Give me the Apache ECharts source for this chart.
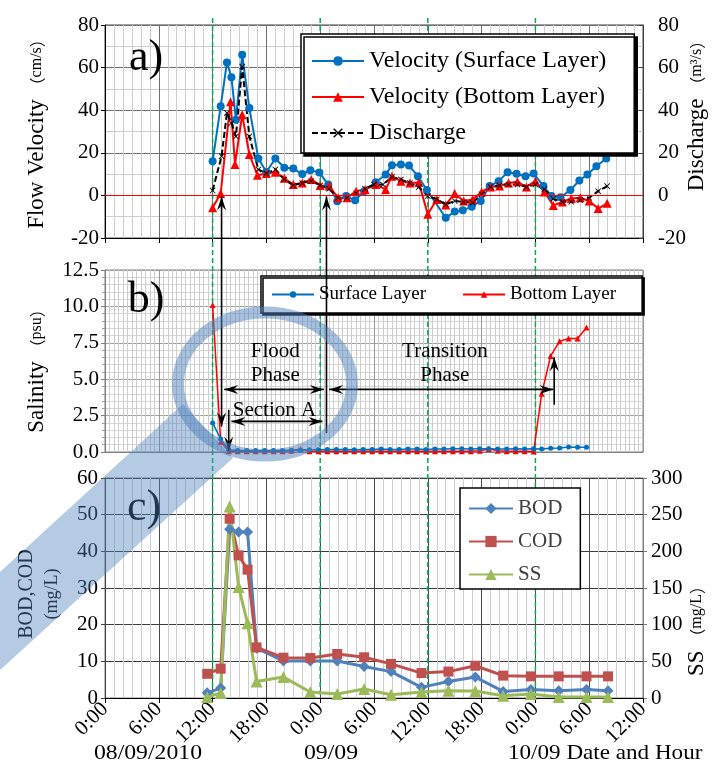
<!DOCTYPE html>
<html>
<head>
<meta charset="utf-8">
<script src="https://cdn.jsdelivr.net/npm/echarts@6/dist/echarts.min.js"></script>
<style>
  body { margin: 0; background: #fff; }
  #mychart { width: 720px; height: 770px; }
</style>
</head>
<body>
<div id="mychart"></div>
<script>
// x values are hours counted from 0:00 08/09/2010
const tickLabels = ['0:00', '6:00', '12:00', '18:00', '0:00', '6:00', '12:00', '18:00', '0:00', '6:00', '12:00']

// a) flow velocity (cm/s) and discharge (m3/s)
const surfHours = [12, 12.9, 13.6, 14.1, 14.6, 15.3, 16.1, 17.1, 18, 19, 20, 21, 22, 22.9, 23.9, 24.9,
    25.9, 26.9, 27.9, 28.9, 30.2, 31.3, 32, 33, 33.9, 34.9, 35.9, 38, 39, 39.9, 40.9, 41.9,
    42.9, 43.9, 44.9, 45.9, 46.9, 47.8, 48.9, 49.8, 50.8, 51.9, 52.9, 53.8, 54.8, 55.9]
const surfVel = [16, 41.8, 62.4, 55.5, 35.5, 66, 41, 17.3, 11, 17.3, 13, 12.6, 10, 11.8, 10.8, 5.1,
    -2.8, -0.3, -2.3, 2, 6.2, 9.8, 14.2, 14.5, 14, 9, 2.5, -10.5, -7.6, -7, -5.3, -2.6,
    4.4, 6.7, 10.9, 10.2, 9, 10.3, 4.4, -0.3, -0.9, 2.5, 7, 9.8, 13.7, 17.3]
const botHours = [12, 12.9, 14, 14.5, 15.3, 16.1, 17, 18, 19, 20, 21, 22, 23, 24, 25, 26,
    27, 28, 29, 30.2, 31.3, 32, 33, 34, 35, 36, 37, 38, 39, 40, 41, 42,
    43, 44, 45, 46, 47, 48, 49, 50, 51, 52, 53, 54, 55, 56]
const botVel = [-5.8, 0.9, 44, 14.5, 37.9, 19.2, 9.5, 10.3, 10.9, 8, 5.1, 5.8, 7.5, 4.7, 4.4, -1.1,
    -1.1, 2, 2.8, 5.1, 2.8, 9, 6.7, 5.8, 6, -8.9, -1.9, -4.5, 0.9, -2.6, -1.9, 1.6,
    4, 4.4, 5.8, 6.4, 4, 6.7, 1.6, -4.7, -3.1, -1.4, -1.1, -2.6, -6.2, -3.7]
const disHours = [12, 13, 13.6, 14.1, 14.6, 15.3, 16.1, 17.1, 18, 19, 20, 21, 22, 23, 24, 25,
    26, 27, 28, 29, 30, 31, 32, 33, 34, 35, 36, 37, 38, 39, 40, 41,
    42, 43, 44, 45, 46, 47, 48, 49, 50, 51, 52, 53, 54, 55, 56]
const discharge = [2.3, 18.4, 38.7, 34, 27.7, 60.5, 27.7, 12.2, 10.3, 12.2, 7.5, 4.7, 5.8, 6.7, 4.7, 3.1,
    -1.1, -1.1, 0.9, 3.1, 5.1, 5.1, 8.6, 7.5, 5.8, 3.9, -0.3, -1.9, -4.2, -2.6, -3.1, -3.4,
    0.5, 4, 4.7, 5.1, 5.1, 4, 5.1, 2.8, -1.6, -3, -3, -2.2, -1.1, 2, 4.4]

// b) salinity (psu)
const salHours = [12, 12.9, 13.8, 14.8, 15.8, 16.8, 17.8, 18.8, 19.8, 20.8, 21.8, 22.8, 23.8, 24.8,
    25.8, 26.8, 27.8, 28.8, 29.8, 30.8, 31.8, 32.8, 33.8, 34.8, 35.8, 36.8, 37.8, 38.8,
    39.8, 40.8, 41.8, 42.8, 43.8, 44.8, 45.8, 46.8, 47.8, 48.7, 49.7, 50.7, 51.7, 52.7, 53.7]
const salSurface = [2.0, 0.9, 0.15, 0.1, 0.1, 0.1, 0.1, 0.1, 0.1, 0.12, 0.12, 0.15, 0.15, 0.18,
    0.18, 0.18, 0.15, 0.18, 0.18, 0.2, 0.18, 0.18, 0.2, 0.2, 0.18, 0.2, 0.2, 0.22,
    0.22, 0.2, 0.22, 0.22, 0.2, 0.2, 0.22, 0.2, 0.22, 0.2, 0.25, 0.28, 0.35, 0.32, 0.32]
const salBottom = [10.1, 0.7, 0.05, 0.05, 0.05, 0.05, 0.05, 0.05, 0.05, 0.08, 0.2, 0.05, 0.05, 0.05,
    0.05, 0.05, 0.05, 0.05, 0.05, 0.05, 0.05, 0.05, 0.05, 0.05, 0.05, 0.05, 0.05, 0.05,
    0.05, 0.05, 0.08, 0.2, 0.08, 0.05, 0.05, 0.05, 0.03, 4.0, 6.6, 7.6, 7.8, 7.8, 8.55]

// c) water quality (mg/L)
const wqHours = [11.4, 12.9, 13.9, 14.9, 15.9, 16.9, 19.9, 22.9, 25.9, 28.9, 31.9, 35.3, 38.3, 41.3, 44.4, 47.5, 50.6, 53.7, 56.1]
const bod = [1.4, 2.7, 46.0, 45.3, 45.3, 13.6, 10.1, 10.1, 10.1, 8.6, 7.2, 2.9, 4.5, 5.7, 1.8, 2.3, 2.0, 2.3, 2.0]
const cod = [6.6, 8.0, 48.9, 38.9, 35.0, 13.8, 11.0, 10.9, 12.0, 11.1, 9.3, 6.8, 7.2, 8.8, 6.1, 5.9, 5.9, 5.9, 5.9]
const ss = [1.4, 6.8, 261, 151.5, 101.8, 22.5, 28.5, 8.1, 5.4, 12.2, 4.5, 8.1, 9.9, 9.5, 3.1, 5.4, 1.4, 1.4, 1.4]

// phase boundaries (green dashed lines)
const dayMarks = [12, 24, 36, 48]

const serif = '"Liberation Serif", "Times New Roman", serif'
const cjk = '"Noto Sans CJK JP", sans-serif'
const crossSymbol = 'path://M0,1L1,0L5,4L9,0L10,1L6,5L10,9L9,10L5,6L1,10L0,9L4,5Z'

function pairs(xs, ys) {
    return xs.map((x, i) => [x, ys[i]])
}

function lineSeries(name, xi, yi, data, color, symbol, size, width, extra) {
    let s = {
        name: name, type: 'line', xAxisIndex: xi, yAxisIndex: yi, data: data,
        symbol: symbol, symbolSize: size, showSymbol: true,
        lineStyle: {color: color, width: width},
        itemStyle: {color: color},
        emphasis: {disabled: true}
    }
    return Object.assign(s, extra || {})
}

let labelStyle = {fontFamily: serif, fontSize: 21, color: '#000'}

let myChart = echarts.init(document.getElementById('mychart'))

let option = {
    animation: false,
    backgroundColor: '#fff',
    grid: [
        {left: 105, right: 77, top: 25, height: 213, show: true, borderColor: '#404040', borderWidth: 1},
        {left: 105, right: 77, top: 270, height: 182, show: true, borderColor: '#7f7f7f', borderWidth: 1},
        {left: 105, right: 77, top: 478, height: 220, show: true, borderColor: '#7f7f7f', borderWidth: 1}
    ],
    xAxis: [0, 1, 2].map(i => ({
        type: 'value', gridIndex: i, min: 0, max: 60, interval: 6,
        axisLine: {show: true, onZero: false, lineStyle: {color: i == 1 ? '#7f7f7f' : '#000'}},
        axisTick: {show: i != 1, length: 5, lineStyle: {color: '#000'}},
        axisLabel: Object.assign({show: i == 2, rotate: 45, margin: 8,
            formatter: v => tickLabels[Math.round(v / 6)]}, labelStyle),
        splitLine: {show: true, lineStyle: {color: ['#6e6e6e', '#9a9a9a', '#4a4a4a'][i]}},
        minorTick: {show: false, splitNumber: i == 1 ? 12 : 6},
        minorSplitLine: {show: true, lineStyle: {color: '#cdcdcd'}}
    })),
    yAxis: [
        {type: 'value', gridIndex: 0, min: -20, max: 80, interval: 20,
            axisLine: {show: true, lineStyle: {color: '#000'}},
            axisTick: {show: true, length: 4, lineStyle: {color: '#000'}},
            axisLabel: Object.assign({margin: 6}, labelStyle),
            splitLine: {lineStyle: {color: '#6e6e6e'}},
            minorTick: {show: false, splitNumber: 2},
            minorSplitLine: {show: true, lineStyle: {color: '#cdcdcd'}}},
        {type: 'value', gridIndex: 0, position: 'right', min: -20, max: 80, interval: 20,
            axisLine: {show: true, lineStyle: {color: '#404040'}},
            axisTick: {show: true, inside: true, length: 4, lineStyle: {color: '#404040'}},
            axisLabel: Object.assign({margin: 15}, labelStyle),
            splitLine: {show: false}},
        {type: 'value', gridIndex: 1, min: 0, max: 12.5, interval: 2.5,
            axisLine: {show: true, lineStyle: {color: '#7f7f7f'}},
            axisTick: {show: true, length: 4, lineStyle: {color: '#7f7f7f'}},
            axisLabel: Object.assign({margin: 6, formatter: v => v.toFixed(1)}, labelStyle),
            splitLine: {lineStyle: {color: '#a0a0a0'}},
            minorTick: {show: true, splitNumber: 5, length: 3, lineStyle: {color: '#a0a0a0'}},
            minorSplitLine: {show: true, lineStyle: {color: '#d6d6d6'}}},
        {type: 'value', gridIndex: 2, min: 0, max: 60, interval: 10,
            axisLine: {show: true, lineStyle: {color: '#404040'}},
            axisTick: {show: true, length: 4, lineStyle: {color: '#404040'}},
            axisLabel: Object.assign({margin: 7}, labelStyle),
            splitLine: {lineStyle: {color: '#3c3c3c'}}},
        {type: 'value', gridIndex: 2, position: 'right', min: 0, max: 300, interval: 50,
            axisLine: {show: true, lineStyle: {color: '#7f7f7f'}},
            axisTick: {show: true, length: 4, lineStyle: {color: '#7f7f7f'}},
            axisLabel: Object.assign({margin: 8}, labelStyle),
            splitLine: {show: false}}
    ],
    legend: [
        {data: ['Velocity (Surface Layer)', 'Velocity (Bottom Layer)', 'Discharge'],
            orient: 'vertical', left: 301, top: 34, itemWidth: 52, itemHeight: 12, itemGap: 12,
            padding: [15, 28, 8, 10], backgroundColor: '#fff', borderColor: '#000', borderWidth: 1.5,
            shadowColor: '#000', shadowOffsetX: 3, shadowOffsetY: 3, shadowBlur: 0,
            selectedMode: false, textStyle: {fontFamily: serif, fontSize: 24, color: '#000'}},
        {data: ['Surface Layer', 'Bottom Layer'],
            orient: 'horizontal', left: 261, top: 276, itemWidth: 42, itemHeight: 8, itemGap: 36,
            padding: [9, 26, 9, 10], backgroundColor: '#fff', borderColor: '#000', borderWidth: 1.5,
            shadowColor: '#000', shadowOffsetX: 2, shadowOffsetY: 2, shadowBlur: 0,
            selectedMode: false, textStyle: {fontFamily: serif, fontSize: 19, color: '#000'}},
        {data: ['BOD', 'COD', 'SS'],
            orient: 'vertical', left: 460, top: 488, itemWidth: 44, itemHeight: 14, itemGap: 12,
            padding: [10, 18, 4, 8], backgroundColor: '#fff', borderColor: '#000', borderWidth: 1.5,
            selectedMode: false, textStyle: {fontFamily: serif, fontSize: 21, color: '#404040'}}
    ],
    series: [
        lineSeries('Velocity (Surface Layer)', 0, 0, pairs(surfHours, surfVel), '#0070c0', 'circle', 8, 2),
        lineSeries('Velocity (Bottom Layer)', 0, 0, pairs(botHours, botVel), '#ff0000', 'triangle', 9, 2, {
            markLine: {silent: true, symbol: 'none', label: {show: false},
                lineStyle: {color: '#ff0000', width: 1, type: 'solid'}, data: [{yAxis: 0}]}
        }),
        lineSeries('Discharge', 0, 1, pairs(disHours, discharge), '#000', crossSymbol, 6, 2, {
            lineStyle: {color: '#000', width: 2, type: [6, 3]}
        }),
        lineSeries('Surface Layer', 1, 2, pairs(salHours, salSurface), '#0070c0', 'circle', 5, 1.5),
        lineSeries('Bottom Layer', 1, 2, pairs(salHours, salBottom), '#ff0000', 'triangle', 6, 1.5, {z: 1}),
        lineSeries('BOD', 2, 3, pairs(wqHours, bod), '#4f81bd', 'diamond', 11, 3),
        lineSeries('COD', 2, 3, pairs(wqHours, cod), '#c0504d', 'rect', 10, 3),
        lineSeries('SS', 2, 4, pairs(wqHours, ss), '#9bbb59', 'triangle', 12, 3)
    ]
}
myChart.setOption(option)

// annotations placed through the axes
function pt(grid, h, v) {
    let yi = [0, 2, 3][grid]
    return myChart.convertToPixel({xAxisIndex: grid, yAxisIndex: yi}, [h, v])
}

function head(tip, from) {
    let dx = tip[0] - from[0], dy = tip[1] - from[1]
    let d = Math.hypot(dx, dy), ux = dx / d, uy = dy / d
    let len = 14, half = 4.5
    let bx = tip[0] - ux * len, by = tip[1] - uy * len
    let notch = [tip[0] - ux * len * 0.65, tip[1] - uy * len * 0.65]
    return {type: 'polygon', z: 120,
        shape: {points: [tip, [bx - uy * half, by + ux * half], notch, [bx + uy * half, by - ux * half]]},
        style: {fill: '#000'}}
}

function arrow(p1, p2, h1, h2) {
    let out = [{type: 'line', z: 120, shape: {x1: p1[0], y1: p1[1], x2: p2[0], y2: p2[1]},
        style: {stroke: '#000', lineWidth: 1.6}}]
    if (h1) out.push(head(p1, p2))
    if (h2) out.push(head(p2, p1))
    return out
}

function txt(p, s, size, extra) {
    return Object.assign({type: 'text', z: 120, x: p[0], y: p[1],
        style: {text: s, fill: '#000', fontFamily: serif, fontSize: size, align: 'center', verticalAlign: 'middle'}}, extra || {})
}

let g = []
let topY = 18, botY = pt(2, 0, 0)[1]
dayMarks.forEach(h => {
    let x = pt(0, h, 0)[0]
    g.push({type: 'line', z: 1, shape: {x1: x, y1: topY, x2: x, y2: botY},
        style: {stroke: '#00b050', lineWidth: 1.5, lineDash: [5, 3]}})
})

let a0 = pt(0, 13, 0), b0 = pt(1, 13, 1.75)
g.push(...arrow([a0[0], a0[1] + 1], [b0[0], b0[1]], true, true))
g.push(...arrow(pt(1, 13.8, 2.9), pt(1, 13.8, 0.08), false, true))
let a1 = pt(0, 24.7, 0), b1 = pt(1, 24.7, 1.3)
g.push(...arrow([a1[0], a1[1] + 1], b1, true, false))
g.push(...arrow(pt(1, 13.3, 4.3), pt(1, 24.4, 4.3), true, true))
g.push(...arrow(pt(1, 14.1, 2.1), pt(1, 24.25, 2.1), true, true))
g.push(...arrow(pt(1, 25, 4.3), pt(1, 50, 4.3), true, true))
g.push(...arrow(pt(1, 50.1, 3.25), pt(1, 50.1, 6.5), false, true))

g.push(txt(pt(1, 19, 6.9), 'Flood', 21))
g.push(txt(pt(1, 19, 5.25), 'Phase', 21))
g.push(txt(pt(1, 18.9, 2.86), 'Section A', 21))
g.push(txt(pt(1, 37.9, 6.9), 'Transition', 21))
g.push(txt(pt(1, 37.9, 5.25), 'Phase', 21))

// panel letters
g.push(txt([146, 58], 'a)', 44))
g.push(txt([146, 300], 'b)', 44))
g.push(txt([144, 508], 'c)', 44))

// axis titles (read bottom to top), units in full-width brackets
function vTitle(x, y, name, unit) {
    return {type: 'text', z: 110, x: x, y: y, rotation: Math.PI / 2,
        style: {text: '{a|' + name + '}{p|（}{b|' + unit + '}{p|）}', fill: '#000',
            align: 'center', verticalAlign: 'middle',
            rich: {
                a: {fontFamily: serif, fontSize: 23, fill: '#000'},
                b: {fontFamily: serif, fontSize: 16, fill: '#000'},
                p: {fontFamily: cjk, fontSize: 16, fill: '#000'}
            }}}
}
g.push(vTitle(37, 130, 'Flow Velocity ', 'cm/s'))
g.push(vTitle(697, 112, 'Discharge ', 'm³/s'))
g.push(vTitle(37, 367, 'Salinity ', 'psu'))
g.push(vTitle(697, 627, 'SS ', 'mg/L'))
g.push(txt([27, 594], 'BOD,COD', 20, {rotation: Math.PI / 2}))
g.push(txt([52, 594], '(mg/L)', 18, {rotation: Math.PI / 2}))

// date captions under the axis
g.push(txt([148, 753], '08/09/2010', 22, {scaleX: 1.08}))
g.push(txt([331, 753], '09/09', 22, {scaleX: 1.08}))
g.push({type: 'text', z: 120, x: 508, y: 753, scaleX: 1.05,
    style: {text: '10/09 Date and Hour', fill: '#000', fontFamily: serif, fontSize: 22, align: 'left', verticalAlign: 'middle'}})

// magnifier ring and band
g.push({type: 'polygon', z: 130, shape: {points: [[183, 404], [233, 458], [0, 670], [0, 572]]},
    style: {fill: 'rgba(79,129,189,0.42)'}})
g.push({type: 'ellipse', z: 131, shape: {cx: 265, cy: 384, rx: 87, ry: 71.5},
    style: {fill: 'none', stroke: 'rgba(79,129,189,0.5)', lineWidth: 12}})

myChart.setOption({graphic: g})
</script>
</body>
</html>
